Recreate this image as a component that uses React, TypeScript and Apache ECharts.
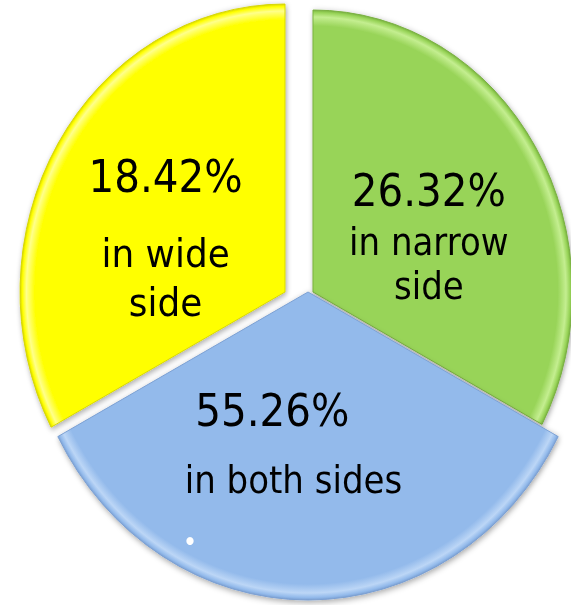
import React, { useEffect, useRef } from "react";
import * as echarts from "echarts";

// ---- data ----
const categoryLines: string[][] = [["in narrow", "side"], ["in both sides"], ["in wide", "side"]];
const categories: string[] = categoryLines.map((l) => l.join(" "));
const percentLabels: string[] = ["26.32%", "55.26%", "18.42%"];
// angular size (degrees) of each slice as it is drawn in the picture
const sliceDegrees: number[] = [118, 124, 118];

// ---- styles ----
const SX = 0.92; // horizontal squeeze of the drawing (the pie is slightly oval)
const W = Math.ceil(571 / SX);
const H = 605;
const FONT = "DejaVu Sans";

const sliceStyle = [
  { base: "#98D458", light: "#C4EE90", dark: "#78B040", center: [340.2, 292], radius: 282, offset: [2.5, 16.1], pLh: 60, tLh: 43.3, tSize: 37, pPad: 0 },
  { base: "#93BAEB", light: "#BCD6F6", dark: "#7A9FD2", center: [334.8, 292], radius: 308, offset: [-15.8, -3.6], pLh: 69.7, tLh: 69.7, tSize: 37, pPad: 46 },
  { base: "#FFFF00", light: "#FFFF8C", dark: "#D6D600", center: [309.8, 292], radius: 288, offset: [-3.8, 9.7], pLh: 104.4, tLh: 49, tSize: 39, pPad: 0 },
];

function rimGradient(s: any) {
  const r = s.radius;
  return {
    type: "radial",
    x: s.center[0],
    y: s.center[1],
    r,
    global: true,
    colorStops: [
      { offset: 0, color: s.base },
      { offset: 1 - 16 / r, color: s.base },
      { offset: 1 - 7 / r, color: s.light },
      { offset: 1 - 2.5 / r, color: s.base },
      { offset: 1, color: s.dark },
    ],
  };
}

export default function App() {
  const ref = useRef<HTMLDivElement>(null);

  useEffect(() => {
    if (!ref.current) return;
    const chart = echarts.init(ref.current, undefined, { renderer: "svg" });

    const series = sliceStyle.map((s, k) => {
      const rich: any = {};
      rich["p" + k] = {
        fontFamily: FONT,
        fontSize: 44,
        color: "#000",
        lineHeight: s.pLh,
        padding: [0, s.pPad, 0, 0],
      };
      rich["t" + k] = {
        fontFamily: FONT,
        fontSize: s.tSize,
        color: "#000",
        lineHeight: s.tLh,
      };
      return {
        type: "pie",
        silent: true,
        center: s.center,
        radius: s.radius,
        startAngle: 90,
        clockwise: true,
        emphasis: { disabled: true },
        labelLine: { show: false },
        data: categories.map((name, i) => ({
          name,
          value: sliceDegrees[i],
          itemStyle:
            i === k
              ? {
                  color: rimGradient(s),
                  borderColor: s.dark,
                  borderWidth: 1,
                  shadowBlur: 6,
                  shadowOffsetX: 1,
                  shadowOffsetY: 2,
                  shadowColor: "rgba(0,0,0,0.35)",
                }
              : { color: "rgba(0,0,0,0)", borderWidth: 0 },
          label:
            i === k
              ? {
                  show: true,
                  position: "inside",
                  offset: s.offset,
                  formatter: () =>
                    `{p${k}|${percentLabels[i]}}\n` +
                    categoryLines[i].map((l) => `{t${k}|${l}}`).join("\n"),
                  rich,
                }
              : { show: false },
        })),
      };
    });

    chart.setOption({
      animation: false,
      backgroundColor: "#ffffff",
      series,
      graphic: [
        {
          type: "circle",
          shape: { cx: 190 / SX, cy: 541, r: 4 },
          style: { fill: "#ffffff" },
          z: 100,
        },
      ],
    } as any);

    return () => chart.dispose();
  }, []);

  return (
    <div style={{ position: "fixed", left: 0, top: 0, width: 571, height: H, overflow: "hidden", background: "#fff" }}>
      <div
        ref={ref}
        style={{
          position: "absolute",
          left: 0,
          top: 0,
          width: W,
          height: H,
          transform: `scaleX(${SX})`,
          transformOrigin: "0 0",
        }}
      />
    </div>
  );
}
